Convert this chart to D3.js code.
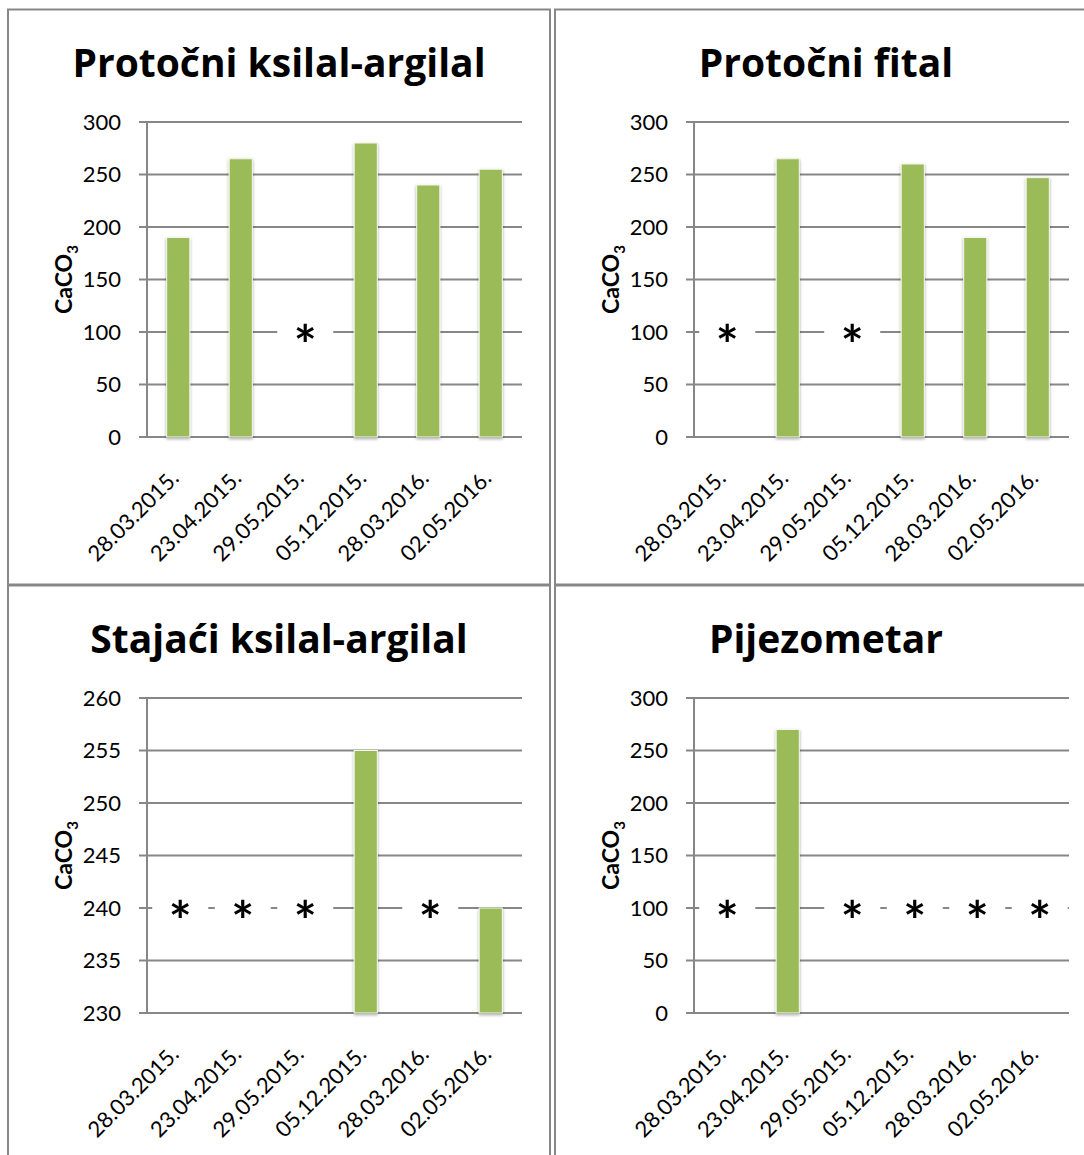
<!DOCTYPE html>
<html>
<head>
<meta charset="utf-8">
<script src="https://cdn.jsdelivr.net/npm/d3@7"></script>
<style>
  body { margin: 0; background: #fff; }
  text { fill: #000; }
</style>
</head>
<body>
<svg id="chart" width="1084" height="1155" font-family="Lato, 'Open Sans', sans-serif"></svg>
<script>
// sampling dates (x categories)
const dates = ["28.03.2015.", "23.04.2015.", "29.05.2015.", "05.12.2015.", "28.03.2016.", "02.05.2016."]

// one title per panel
const titles = ["Protočni ksilal-argilal", "Protočni fital", "Stajaći ksilal-argilal", "Pijezometar"]

// CaCO3 values, null = no measurement (shown as *)
const protocniKsilal = [190, 265, null, 280, 240, 255]
const protocniFital = [null, 265, null, 260, 190, 247]
const stajaciKsilal = [null, null, null, 255, null, 240]
const pijezometar = [null, 270, null, null, null, null]

// y axis ranges and tick steps
const yMin = [0, 0, 230, 0]
const yMax = [300, 300, 260, 300]
const yStep = [50, 50, 5, 50]
// value where the * marker for missing data sits
const missingLevel = [100, 100, 240, 100]

const series = [protocniKsilal, protocniFital, stajaciKsilal, pijezometar]

const svg = d3.select("#chart")

// soft shadow like the excel bars
const defs = svg.append("defs")
const f = defs.append("filter").attr("id", "shadow").attr("x", "-30%").attr("y", "-10%").attr("width", "160%").attr("height", "130%")
f.append("feDropShadow").attr("dx", 0).attr("dy", 1.5).attr("stdDeviation", 1.8)
  .attr("flood-color", "#000").attr("flood-opacity", 0.35)

const panelW = 542, panelH = 575
const origins = [[8, 9.5], [555, 9.5], [8, 585.5], [555, 585.5]]
const grey = "#878787"

series.forEach((values, k) => {
  const [px, py] = origins[k]
  const g = svg.append("g").attr("transform", `translate(${px},${py})`)

  // panel frame
  g.append("rect").attr("x", 0).attr("y", 0).attr("width", panelW).attr("height", panelH)
    .attr("fill", "none").attr("stroke", grey).attr("stroke-width", 2)

  g.append("text").attr("x", panelW / 2).attr("y", 67)
    .attr("text-anchor", "middle").attr("font-size", 39).attr("font-weight", "bold")
    .style("font-family", "'Open Sans', Lato, sans-serif")
    .text(titles[k])

  const x = d3.scaleBand().domain(dates).range([139, 514]).paddingInner(0.63).paddingOuter(0.315)
  const y = d3.scaleLinear().domain([yMin[k], yMax[k]]).range([427.5, 112.5])
  const ticks = d3.range(yMin[k], yMax[k] + yStep[k] / 2, yStep[k])

  // gridlines
  g.append("g").selectAll("line").data(ticks).join("line")
    .attr("x1", 131).attr("x2", 514)
    .attr("y1", d => y(d)).attr("y2", d => y(d))
    .attr("stroke", grey).attr("stroke-width", 2)

  // y axis line
  g.append("line").attr("x1", 139).attr("x2", 139).attr("y1", y.range()[1]).attr("y2", y.range()[0])
    .attr("stroke", grey).attr("stroke-width", 2)

  const yAxis = g.append("g").attr("transform", "translate(139,0)")
    .call(d3.axisLeft(y).tickValues(ticks).tickSize(0).tickPadding(26))
  yAxis.select(".domain").remove()
  yAxis.attr("font-family", null).attr("font-size", null)
  yAxis.selectAll("text").attr("font-size", 22).attr("fill", "#000")

  // y title with subscript
  const yt = g.append("text").attr("transform", `translate(64,${(y.range()[0] + y.range()[1]) / 2}) rotate(-90)`)
    .attr("text-anchor", "middle").attr("font-size", 23).attr("font-weight", "bold")
  yt.append("tspan").text("CaCO")
  yt.append("tspan").attr("font-size", 15).attr("dy", 6).text("3")

  // bars
  const present = dates.map((d, i) => ({date: d, v: values[i]}))
  g.append("g").selectAll("rect").data(present.filter(d => d.v !== null)).join("rect")
    .attr("x", d => x(d.date)).attr("width", x.bandwidth())
    .attr("y", d => y(d.v)).attr("height", d => y.range()[0] - y(d.v))
    .attr("fill", "#9bbb59").attr("stroke", "#f4f8ec").attr("stroke-width", 1)
    .attr("filter", "url(#shadow)")

  // * markers for missing values, on a white box
  const miss = present.filter(d => d.v === null)
  const mg = g.append("g").selectAll("g").data(miss).join("g")
    .attr("transform", d => `translate(${x(d.date) + x.bandwidth() / 2 + 2},${y(missingLevel[k])})`)
  mg.append("rect").attr("x", -28).attr("y", -20).attr("width", 56).attr("height", 40).attr("fill", "#fff")
  mg.append("text").attr("text-anchor", "middle").attr("dy", "0.6em")
    .attr("font-size", 54).attr("font-weight", "bold").attr("fill", "#101020").text("*")

  // rotated date labels
  g.append("g").selectAll("text").data(dates).join("text")
    .attr("transform", d => `translate(${x(d) + x.bandwidth() / 2 + 2},${470}) rotate(-45)`)
    .attr("text-anchor", "end").attr("font-size", 22).text(d => d)
})
</script>
</body>
</html>
